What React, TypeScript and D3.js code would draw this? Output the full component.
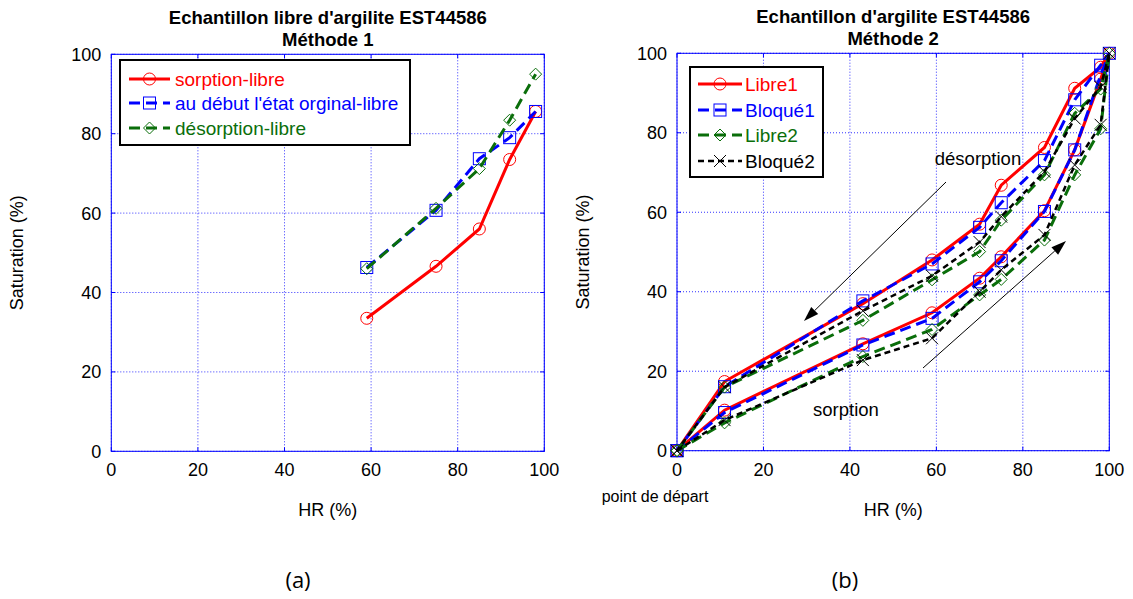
import React from 'react';
import * as d3 from 'd3';

// ---------- shared ticks ----------
const xTicks = [0, 20, 40, 60, 80, 100];
const yTicks = [0, 20, 40, 60, 80, 100];

// ---------- chart (a) ----------
const hrA = [59, 75, 85, 92, 98];
const sorptionLibre = [33.5, 46.6, 56, 73.5, 85.6];
const debutEtatOriginal = [46.3, 60.7, 73.7, 79, 85.6];
const desorptionLibre = [46, 61.2, 71.2, 83.4, 95];

// ---------- chart (b) ----------
const hrSorp = [0, 11, 43, 59, 70, 75, 85, 92, 98, 100];
const hrDesorp = [98, 92, 85, 75, 70, 59, 43, 11, 0];
const libre1Sorp = [0, 10.2, 26.9, 34.7, 43.4, 48.8, 60.4, 75.7, 93.5, 100];
const libre1Desorp = [96.5, 91.2, 76.3, 66.8, 57, 48, 37, 17.4, 0];
const bloque1Sorp = [0, 9.6, 26.6, 33.3, 42.5, 47.8, 60.2, 75.7, 94.5, 100];
const bloque1Desorp = [97, 88.3, 73, 62.4, 56.2, 47, 37.7, 16.1, 0];
const libre2Sorp = [0, 7.0, 23.7, 30.5, 39.2, 43.1, 53, 69.4, 81, 100];
const libre2Desorp = [91, 84.9, 69.4, 58, 50.1, 43, 32.8, 16, 0];
const bloque2Sorp = [0, 7.7, 22.8, 28.3, 40, 45.5, 54.3, 71.9, 82, 100];
const bloque2Desorp = [91.5, 83.6, 70.2, 58.9, 52.5, 44, 35.2, 16, 0];

const RED = '#ff0000';
const BLUE = '#0000ff';
const GREEN = '#0a6e0a';
const BLACK = '#000000';
const FONT = '"Liberation Sans", Arial, sans-serif';

type MarkerType = 'circle' | 'square' | 'diamond' | 'x';

function Marker({ type, x, y, color }: { type: MarkerType; x: number; y: number; color: string }) {
  const s = 6;
  if (type === 'circle') return <circle cx={x} cy={y} r={s} fill="none" stroke={color} strokeWidth={1} />;
  if (type === 'square') return <rect x={x - s} y={y - s} width={2 * s} height={2 * s} fill="none" stroke={color} strokeWidth={1} />;
  if (type === 'diamond')
    return <path d={`M${x},${y - s}L${x + s},${y}L${x},${y + s}L${x - s},${y}Z`} fill="none" stroke={color} strokeWidth={1} />;
  return <path d={`M${x - s},${y - s}L${x + s},${y + s}M${x - s},${y + s}L${x + s},${y - s}`} fill="none" stroke={color} strokeWidth={1} />;
}

type Series = {
  name: string;
  xs: number[];
  ys: number[];
  color: string;
  width: number;
  dash?: string;
  marker: MarkerType;
};

type Frame = { x0: number; x1: number; y0: number; y1: number };

function Axes({ f, title1, title2, xLabel }: { f: Frame; title1: string; title2: string; xLabel: string }) {
  const x = d3.scaleLinear().domain([0, 100]).range([f.x0, f.x1]);
  const y = d3.scaleLinear().domain([0, 100]).range([f.y0, f.y1]);
  const cx = (f.x0 + f.x1) / 2;
  return (
    <g>
      {xTicks.map((t) => (
        <line key={'gx' + t} x1={x(t)} x2={x(t)} y1={f.y0} y2={f.y1} stroke={BLUE} strokeWidth={1} strokeDasharray="1,2" opacity={0.8} />
      ))}
      {yTicks.map((t) => (
        <line key={'gy' + t} x1={f.x0} x2={f.x1} y1={y(t)} y2={y(t)} stroke={BLUE} strokeWidth={1} strokeDasharray="1,2" opacity={0.8} />
      ))}
      <rect x={f.x0} y={f.y1} width={f.x1 - f.x0} height={f.y0 - f.y1} fill="none" stroke={BLUE} strokeWidth={1} />
      {xTicks.map((t) => (
        <g key={'tx' + t}>
          <line x1={x(t)} x2={x(t)} y1={f.y0} y2={f.y0 - 4} stroke={BLUE} />
          <line x1={x(t)} x2={x(t)} y1={f.y1} y2={f.y1 + 4} stroke={BLUE} />
          <text x={x(t)} y={f.y0 + 25} textAnchor="middle" fontSize={18} fontFamily={FONT} fill="#000">
            {t}
          </text>
        </g>
      ))}
      {yTicks.map((t) => (
        <g key={'ty' + t}>
          <line x1={f.x0} x2={f.x0 + 4} y1={y(t)} y2={y(t)} stroke={BLUE} />
          <line x1={f.x1} x2={f.x1 - 4} y1={y(t)} y2={y(t)} stroke={BLUE} />
          <text x={f.x0 - 10} y={y(t) + 6.5} textAnchor="end" fontSize={18} fontFamily={FONT} fill="#000">
            {t}
          </text>
        </g>
      ))}
      <text x={cx} y={f.y1 - 30} textAnchor="middle" fontSize={18.5} fontWeight="bold" fontFamily={FONT}>
        {title1}
      </text>
      <text x={cx} y={f.y1 - 8} textAnchor="middle" fontSize={18.5} fontWeight="bold" fontFamily={FONT}>
        {title2}
      </text>
      <text x={cx} y={f.y0 + 65} textAnchor="middle" fontSize={18} fontFamily={FONT}>
        {xLabel}
      </text>
      <text
        transform={`translate(${f.x0 - 88},${(f.y0 + f.y1) / 2}) rotate(-90)`}
        textAnchor="middle"
        fontSize={18}
        fontFamily={FONT}
      >
        Saturation (%)
      </text>
    </g>
  );
}

function SeriesMarks({ f, series }: { f: Frame; series: Series[] }) {
  const x = d3.scaleLinear().domain([0, 100]).range([f.x0, f.x1]);
  const y = d3.scaleLinear().domain([0, 100]).range([f.y0, f.y1]);
  const line = d3
    .line<[number, number]>()
    .x((d) => x(d[0]))
    .y((d) => y(d[1]));
  return (
    <g>
      {series.map((s) => {
        const pts = s.xs.map((v, i) => [v, s.ys[i]] as [number, number]);
        return (
          <g key={s.name}>
            <path d={line(pts) || ''} fill="none" stroke={s.color} strokeWidth={s.width} strokeDasharray={s.dash} />
            {pts.map((p, i) => (
              <Marker key={i} type={s.marker} x={x(p[0])} y={y(p[1])} color={s.color} />
            ))}
          </g>
        );
      })}
    </g>
  );
}

function Legend({
  x0,
  y0,
  w,
  h,
  rows,
  series,
  textX,
  sampleX0,
  sampleX1,
}: {
  x0: number;
  y0: number;
  w: number;
  h: number;
  rows: number[];
  series: Series[];
  textX: number;
  sampleX0: number;
  sampleX1: number;
}) {
  const mid = (sampleX0 + sampleX1) / 2;
  return (
    <g>
      <rect x={x0} y={y0} width={w} height={h} fill="#fff" stroke="#000" strokeWidth={2} />
      {series.map((s, i) => (
        <g key={s.name}>
          <line x1={sampleX0} x2={sampleX1} y1={rows[i]} y2={rows[i]} stroke={s.color} strokeWidth={s.width} strokeDasharray={s.dash ? s.dash : undefined} />
          <Marker type={s.marker} x={mid} y={rows[i]} color={s.color} />
          <text x={textX} y={rows[i] + 6.8} fontSize={19} fontFamily={FONT} fill={s.color}>
            {s.name}
          </text>
        </g>
      ))}
    </g>
  );
}

function Arrow({ x1, y1, x2, y2 }: { x1: number; y1: number; x2: number; y2: number }) {
  const ang = Math.atan2(y2 - y1, x2 - x1);
  const L = 15;
  const W = 5;
  const bx = x2 - L * Math.cos(ang);
  const by = y2 - L * Math.sin(ang);
  const px = -Math.sin(ang) * W;
  const py = Math.cos(ang) * W;
  return (
    <g>
      <line x1={x1} y1={y1} x2={bx} y2={by} stroke="#000" strokeWidth={1} />
      <path d={`M${x2},${y2}L${bx + px},${by + py}L${bx - px},${by - py}Z`} fill="#000" />
    </g>
  );
}

export default function App() {
  const fa: Frame = { x0: 111.3, x1: 544.3, y0: 451.3, y1: 54.3 };
  const fb: Frame = { x0: 677, x1: 1109.3, y0: 450.7, y1: 53.3 };

  const seriesA: Series[] = [
    { name: 'sorption-libre', xs: hrA, ys: sorptionLibre, color: RED, width: 3, marker: 'circle' },
    { name: "au début l'état orginal-libre", xs: hrA, ys: debutEtatOriginal, color: BLUE, width: 3, dash: '11,6', marker: 'square' },
    { name: 'désorption-libre', xs: hrA, ys: desorptionLibre, color: GREEN, width: 3, dash: '11,6', marker: 'diamond' },
  ];

  const loopX = hrSorp.concat(hrDesorp);
  const seriesB: Series[] = [
    { name: 'Libre1', xs: loopX, ys: libre1Sorp.concat(libre1Desorp), color: RED, width: 3, marker: 'circle' },
    { name: 'Bloqué1', xs: loopX, ys: bloque1Sorp.concat(bloque1Desorp), color: BLUE, width: 3, dash: '11,6', marker: 'square' },
    { name: 'Libre2', xs: loopX, ys: libre2Sorp.concat(libre2Desorp), color: GREEN, width: 3, dash: '11,6', marker: 'diamond' },
    { name: 'Bloqué2', xs: loopX, ys: bloque2Sorp.concat(bloque2Desorp), color: BLACK, width: 2.5, dash: '6,4', marker: 'x' },
  ];

  return (
    <svg width={1133} height={599} style={{ position: 'absolute', left: 0, top: 0, background: '#fff' }}>
      <rect x={0} y={0} width={1133} height={599} fill="#fff" />
      {/* chart (a) */}
      <Axes f={fa} title1="Echantillon libre d'argilite EST44586" title2="Méthode 1" xLabel="HR (%)" />
      <SeriesMarks f={fa} series={seriesA} />
      <Legend
        x0={120}
        y0={60}
        w={290}
        h={85}
        rows={[79, 103, 128]}
        series={seriesA}
        textX={175}
        sampleX0={129}
        sampleX1={170}
      />
      <text x={298} y={588} textAnchor="middle" fontSize={22} fontFamily='"Open Sans", sans-serif'>
        (a)
      </text>

      {/* chart (b) */}
      <Axes f={fb} title1="Echantillon d'argilite EST44586" title2="Méthode 2" xLabel="HR  (%)" />
      <SeriesMarks f={fb} series={seriesB} />
      <Legend
        x0={690}
        y0={67}
        w={133}
        h={110}
        rows={[84, 110, 135, 161]}
        series={seriesB}
        textX={745}
        sampleX0={698}
        sampleX1={742}
      />
      <text x={978} y={165} textAnchor="middle" fontSize={18.5} fontFamily={FONT}>
        désorption
      </text>
      <Arrow x1={946} y1={182} x2={804} y2={321} />
      <text x={846} y={416} textAnchor="middle" fontSize={18.5} fontFamily={FONT}>
        sorption
      </text>
      <Arrow x1={923} y1={368} x2={1066} y2={241} />
      <text x={655} y={502} textAnchor="middle" fontSize={16} fontFamily={FONT}>
        point de départ
      </text>
      <text x={845} y={588} textAnchor="middle" fontSize={22} fontFamily='"Open Sans", sans-serif'>
        (b)
      </text>
    </svg>
  );
}
